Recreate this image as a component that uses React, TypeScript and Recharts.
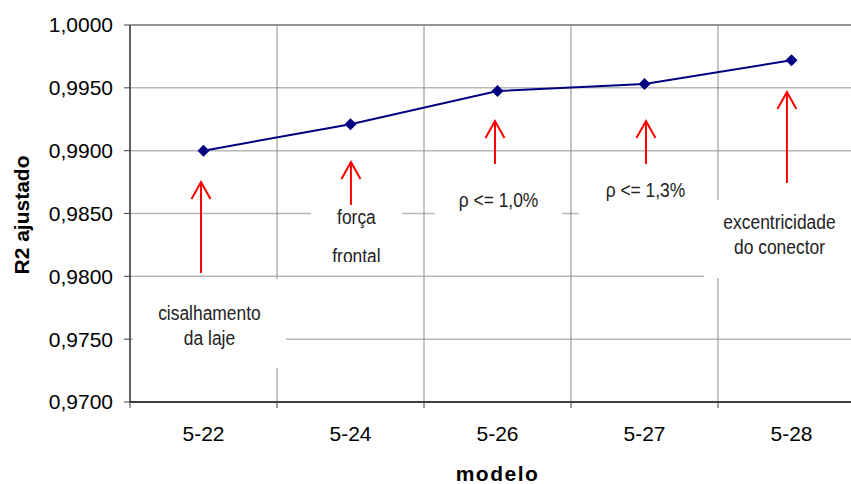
import React from 'react';
import {
  LineChart, Line, XAxis, YAxis, CartesianGrid, ReferenceLine, ReferenceArea,
} from 'recharts';

const models = ['5-22', '5-24', '5-26', '5-27', '5-28'];
// each model sits in the middle of its slot on a 0..5 axis
const modelPos = [0.5, 1.5, 2.5, 3.5, 4.5];
const slotEdges = [0, 1, 2, 3, 4, 5];
const r2Values = [0.99, 0.9921, 0.99475, 0.9953, 0.9972];
const yTicks = [0.97, 0.975, 0.98, 0.985, 0.99, 0.995, 1.0];

// arrows: x on the 0..5 slot axis, tail and tip in R2 units
const arrowX = [0.483, 1.503, 2.483, 3.51, 4.469];
const arrowTail = [0.98027, 0.98568, 0.98894, 0.98894, 0.98743];
const arrowTip = [0.98751, 0.9891, 0.99236, 0.99236, 0.99467];

// note boxes
const noteText = [
  ['cisalhamento', 'da laje'],
  ['força', 'frontal'],
  ['ρ <= 1,0%'],
  ['ρ <= 1,3%'],
  ['excentricidade', 'do conector'],
];
const noteX1 = [0.02, 1.231, 2.075, 3.054, 3.905];
const noteX2 = [1.061, 1.85, 2.939, 3.959, 4.932];
const noteY1 = [0.97271, 0.98114, 0.98401, 0.98416, 0.97987];
const noteY2 = [0.97979, 0.98671, 0.98751, 0.9883, 0.98607];
const noteBaselines = [[41, 66], [32, 71], [25], [25], [29, 54]];

const data = models.map((m, i) => ({ model: m, pos: modelPos[i], r2: r2Values[i] }));

const FONT = 'Liberation Sans, Arial, sans-serif';
const BAND = 147;

const fmt = (v: number) => v.toFixed(4).replace('.', ',');

const Diamond = (props: any) => {
  const { cx, cy, index } = props;
  const s = 6;
  return (
    <polygon
      key={index}
      points={`${cx},${cy - s} ${cx + s},${cy} ${cx},${cy + s} ${cx - s},${cy}`}
      fill="#000080"
    />
  );
};

const XTick = (props: any) => {
  const { x, y, payload } = props;
  const label = models[payload.value];
  return (
    <g>
      <line x1={x} y1={y} x2={x} y2={y + 6} stroke="#404040" />
      {label && (
        <text x={x + BAND / 2} y={y + 39} textAnchor="middle" fontSize={21} fontFamily={FONT} fill="#000">
          {label}
        </text>
      )}
    </g>
  );
};

const Arrow = (props: any) => {
  const { x1, y1, x2, y2 } = props;
  return (
    <g stroke="#ff0000" strokeWidth={2} fill="none">
      <line x1={x1} y1={y1} x2={x2} y2={y2} />
      <polyline points={`${x2 - 9.5},${y2 + 17} ${x2},${y2} ${x2 + 9.5},${y2 + 17}`} />
    </g>
  );
};

const makeNote = (i: number) => (props: any) => {
  const { x, y, width, height } = props;
  const id = `note-clip-${i}`;
  return (
    <g>
      <defs>
        <clipPath id={id}>
          <rect x={x} y={y} width={width} height={height} />
        </clipPath>
      </defs>
      <rect x={x} y={y} width={width} height={height} fill="#fff" />
      <g clipPath={`url(#${id})`}>
        {noteText[i].map((t, j) => (
          <g key={j} transform={`translate(${x + width / 2} ${y + noteBaselines[i][j]}) scale(0.83 1)`}>
            <text x={0} y={0} textAnchor="middle" fontSize={21} fontFamily={FONT} fill="#222">
              {t}
            </text>
          </g>
        ))}
      </g>
    </g>
  );
};

export default function App() {
  return (
    <div style={{ position: 'absolute', left: 0, top: 0, width: 851, height: 484, overflow: 'hidden', background: '#fff' }}>
      <LineChart width={866} height={484} data={data} margin={{ top: 25, right: 1, bottom: 0, left: 0 }}>
        <CartesianGrid vertical={false} stroke="#b8b8b8" strokeWidth={1.5} />
        <CartesianGrid horizontal={false} stroke="#8a8a8a" />
        <ReferenceLine y={1} stroke="#808080" strokeWidth={1.5} />
        <XAxis
          dataKey="pos"
          type="number"
          domain={[0, 5]}
          ticks={slotEdges}
          allowDataOverflow
          height={82}
          tickLine={false}
          tickSize={0}
          tickMargin={0}
          axisLine={{ stroke: '#404040', strokeWidth: 2 }}
          tick={<XTick />}
          interval={0}
          label={{ value: 'modelo', position: 'insideBottom', offset: 3, fontSize: 21, fontWeight: 'bold', fontFamily: FONT, fill: '#000', letterSpacing: 1.5 }}
        />
        <YAxis
          domain={[0.97, 1]}
          ticks={yTicks}
          width={130}
          tickFormatter={fmt}
          tickSize={6}
          tickMargin={11}
          axisLine={{ stroke: '#000' }}
          tickLine={{ stroke: '#404040' }}
          tick={{ fontSize: 21, fontFamily: FONT, fill: '#000' }}
          label={{
            value: 'R2 ajustado',
            position: 'insideLeft',
            content: () => (
              <text
                x={21}
                y={215}
                transform="rotate(-90 21 215)"
                textAnchor="middle"
                dominantBaseline="central"
                fontSize={21}
                fontWeight="bold"
                fontFamily={FONT}
                fill="#000"
              >
                R2 ajustado
              </text>
            ),
          }}
        />
        {noteText.map((_, i) => (
          <ReferenceArea
            key={`n${i}`}
            x1={noteX1[i]}
            x2={noteX2[i]}
            y1={noteY1[i]}
            y2={noteY2[i]}
            shape={makeNote(i)}
            ifOverflow="visible"
          />
        ))}
        {arrowX.map((ax, i) => (
          <ReferenceLine
            key={`a${i}`}
            segment={[{ x: ax, y: arrowTail[i] }, { x: ax, y: arrowTip[i] }]}
            shape={<Arrow />}
          />
        ))}
        <Line
          type="linear"
          dataKey="r2"
          stroke="#000080"
          strokeWidth={2}
          dot={Diamond}
          activeDot={false}
          isAnimationActive={false}
        />
      </LineChart>
    </div>
  );
}
